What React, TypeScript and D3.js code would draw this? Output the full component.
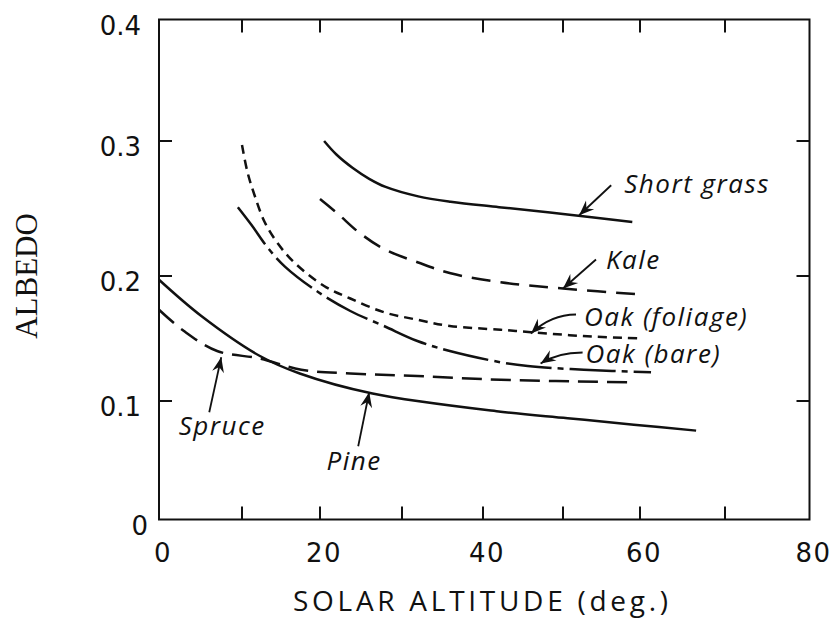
import React from "react";
import * as d3 from "d3";

type P = [number, number];

const xTicks = [0, 10, 20, 30, 40, 50, 60, 70, 80];
const yTicks = [0, 0.1, 0.2, 0.3, 0.4];
const xTickLabels = ["0", "20", "40", "60", "80"];
const xTickLabelValues = [0, 20, 40, 60, 80];
const yTickLabels = ["0", "0.1", "0.2", "0.3", "0.4"];

const seriesNames = ["Short grass", "Kale", "Oak (foliage)", "Oak (bare)", "Spruce", "Pine"];

const shortGrass: P[] = [[20.5, 0.3], [22, 0.29], [24, 0.28], [26, 0.272], [28, 0.266], [32, 0.259], [36, 0.255], [42, 0.251], [50, 0.246], [59, 0.24]];
const kale: P[] = [[20, 0.257], [22.2, 0.246], [24.6, 0.233], [27.8, 0.22], [32, 0.21], [36, 0.202], [42.2, 0.195], [50, 0.19], [60.5, 0.185]];
const oakFoliage: P[] = [[10, 0.297], [10.7, 0.277], [11.6, 0.26], [12.9, 0.24], [14.6, 0.224], [16.7, 0.21], [20.5, 0.192], [23.7, 0.182], [27.8, 0.171], [31.9, 0.165], [35.9, 0.16], [42.2, 0.157], [46, 0.155], [52.6, 0.152], [60.1, 0.15]];
const oakBare: P[] = [[9.5, 0.251], [11.2, 0.238], [13.3, 0.221], [15.5, 0.207], [19.8, 0.187], [23.7, 0.172], [27.8, 0.16], [31.9, 0.148], [35.9, 0.14], [42.2, 0.131], [45.6, 0.128], [52.7, 0.125], [61.3, 0.123]];
const spruce: P[] = [[0, 0.173], [3, 0.156], [7, 0.14], [12.3, 0.134], [17.6, 0.125], [23.7, 0.122], [31.9, 0.12], [42.2, 0.117], [58.4, 0.115]];
const pine: P[] = [[0, 0.197], [5.1, 0.168], [12.3, 0.136], [17.4, 0.122], [26.4, 0.106], [42.2, 0.091], [50.6, 0.0855], [59.2, 0.08], [66.6, 0.075]];

// arrow tips (data units) for each label
const arrowTips: P[] = [[52.1, 0.245], [50, 0.19], [46, 0.154], [47.2, 0.13], [7.5, 0.135], [26, 0.107]];

const W = 832;
const H = 620;

export default function App() {
  const x = d3.scaleLinear().domain(xTicks).range([159, 242, 320, 402, 483, 563, 640, 725, 809.5]);
  const y = d3.scaleLinear().domain(yTicks).range([519.5, 401, 276, 141, 19.5]);
  const line = d3
    .line<P>()
    .x((d) => x(d[0]))
    .y((d) => y(d[1]))
    .curve(d3.curveCatmullRom.alpha(0.5));

  const series = [shortGrass, kale, oakFoliage, oakBare, spruce, pine];
  const dashes = ["none", "19 10", "9 6", "46 6 6 6", "20 9", "none"];

  // style: tail offset, optional control offset (relative to tip), label offset (relative to tail), anchor
  const ann = [
    { tail: [32, -30], ctrl: null, lab: [13, 8], anchor: "start" },
    { tail: [33, -29], ctrl: null, lab: [10, 9], anchor: "start" },
    { tail: [45, -19], ctrl: [20, -19], lab: [8, 11], anchor: "start" },
    { tail: [42, -11], ctrl: [17, -11], lab: [3, 10], anchor: "start" },
    { tail: [-12, 55], ctrl: null, lab: [13, 23], anchor: "middle" },
    { tail: [-11, 54], ctrl: null, lab: [-4, 24], anchor: "middle" },
  ];

  const x0 = x(0), x1 = x(80), yb = y(0), yt = y(0.4);
  const tickLen = 13;
  const innerX = xTicks.filter((v) => v > 0 && v < 80);
  const innerY = yTicks.filter((v) => v > 0 && v < 0.4);

  const sans = "'Open Sans', 'DejaVu Sans', sans-serif";
  const tickFont = "'DejaVu Sans', sans-serif";

  return (
    <svg width={W} height={H} style={{ position: "absolute", left: 0, top: 0, background: "#fff" }}>
      <rect x={0} y={0} width={W} height={H} fill="#fff" />
      {/* frame */}
      <rect x={x0} y={yt} width={x1 - x0} height={yb - yt} fill="none" stroke="#111" strokeWidth={2} />
      {innerX.map((v) => (
        <g key={"xt" + v}>
          <line x1={x(v)} x2={x(v)} y1={yb} y2={yb - tickLen} stroke="#111" strokeWidth={2} />
          <line x1={x(v)} x2={x(v)} y1={yt} y2={yt + tickLen} stroke="#111" strokeWidth={2} />
        </g>
      ))}
      {innerY.map((v) => (
        <g key={"yt" + v}>
          <line x1={x0} x2={x0 + tickLen} y1={y(v)} y2={y(v)} stroke="#111" strokeWidth={2} />
          <line x1={x1} x2={x1 - tickLen} y1={y(v)} y2={y(v)} stroke="#111" strokeWidth={2} />
        </g>
      ))}
      {/* tick labels */}
      {yTicks.map((v, i) => (
        <text key={"yl" + v} x={v === 0 ? 148 : 141} y={y(v) + 15} textAnchor="end" fontFamily={tickFont} fontSize={26} fill="#111">
          {yTickLabels[i]}
        </text>
      ))}
      {xTickLabelValues.map((v, i) => (
        <text key={"xl" + v} x={x(v) + 4} y={562} textAnchor="middle" fontFamily={tickFont} fontSize={26} letterSpacing={1.5} fill="#111">
          {xTickLabels[i]}
        </text>
      ))}
      {/* axis titles */}
      <text x={293} y={611} fontFamily={sans} fontSize={28} fill="#111" textLength={375} lengthAdjust="spacing">
        SOLAR ALTITUDE (deg.)
      </text>
      <text
        transform={`translate(37,276) rotate(-90)`}
        textAnchor="middle"
        fontFamily="'Liberation Serif', 'DejaVu Serif', serif"
        fontSize={31}
        fill="#111"
      >
        ALBEDO
      </text>
      {/* curves */}
      {series.map((s, i) => (
        <path
          key={"s" + i}
          d={line(s) || ""}
          fill="none"
          stroke="#111"
          strokeWidth={2.5}
          strokeDasharray={dashes[i]}
        />
      ))}
      {/* annotations */}
      {arrowTips.map((t, i) => {
        const a = ann[i];
        const tx = x(t[0]);
        const ty = y(t[1]);
        const sx = tx + a.tail[0];
        const sy = ty + a.tail[1];
        let d: string;
        let fx: number, fy: number;
        if (a.ctrl) {
          const cx = tx + a.ctrl[0];
          const cy = ty + a.ctrl[1];
          d = `M${sx},${sy} Q${cx},${cy} ${tx},${ty}`;
          fx = cx;
          fy = cy;
        } else {
          d = `M${sx},${sy} L${tx},${ty}`;
          fx = sx;
          fy = sy;
        }
        const dx = tx - fx;
        const dy = ty - fy;
        const len = Math.hypot(dx, dy) || 1;
        const ux = dx / len, uy = dy / len;
        const nx = -uy, ny = ux;
        const L = 15, w = 6, notch = 5;
        const head = [
          [tx, ty],
          [tx - L * ux + w * nx, ty - L * uy + w * ny],
          [tx - (L - notch) * ux, ty - (L - notch) * uy],
          [tx - L * ux - w * nx, ty - L * uy - w * ny],
        ]
          .map((p) => p.join(","))
          .join(" ");
        return (
          <g key={"a" + i}>
            <path d={d} fill="none" stroke="#111" strokeWidth={1.8} />
            <polygon points={head} fill="#111" />
            <text
              x={sx + a.lab[0]}
              y={sy + a.lab[1]}
              textAnchor={a.anchor as any}
              fontFamily={sans}
              fontStyle="italic"
              fontSize={26}
              letterSpacing={1.5}
              fill="#111"
            >
              {seriesNames[i]}
            </text>
          </g>
        );
      })}
    </svg>
  );
}
